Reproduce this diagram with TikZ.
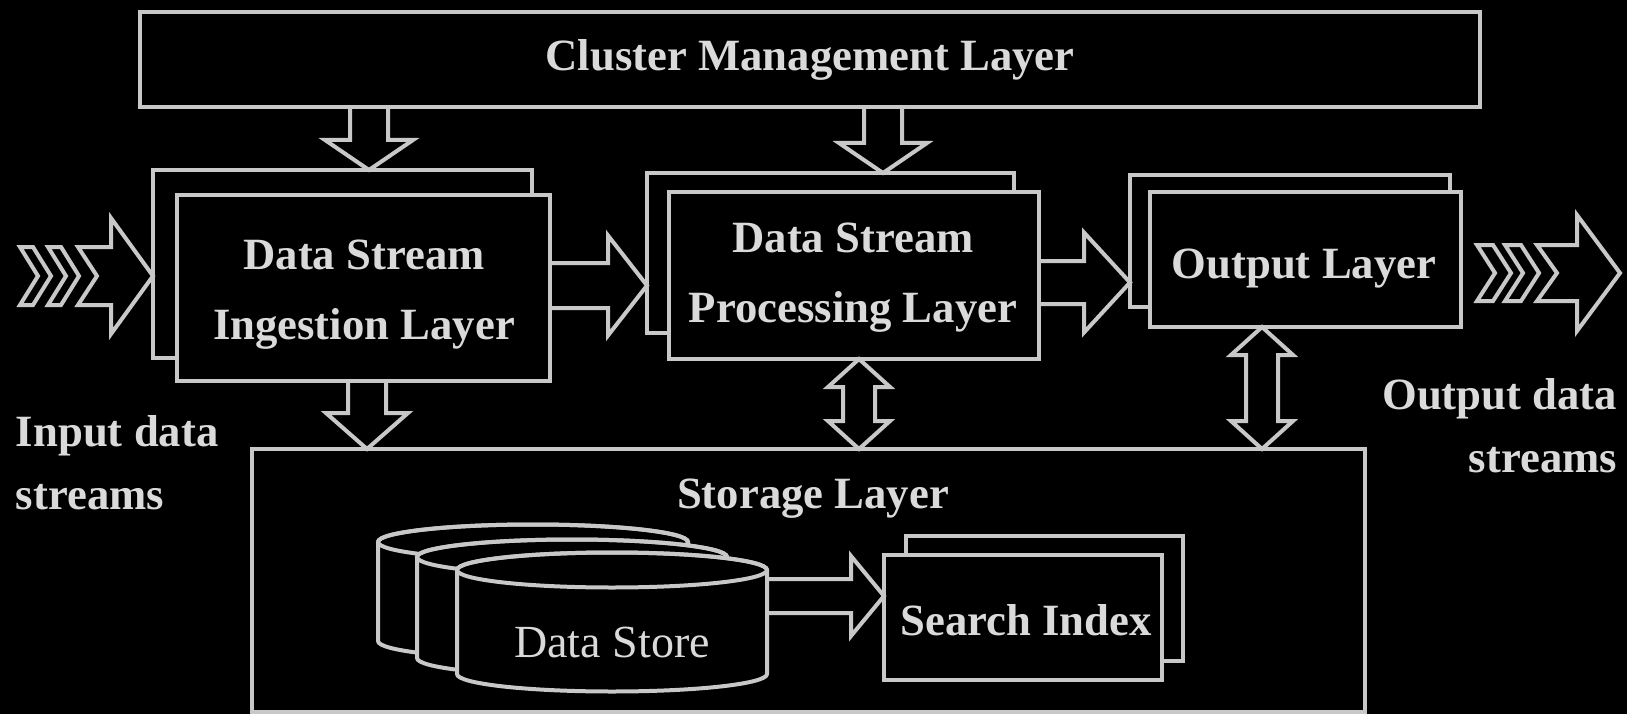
\documentclass[tikz,border=0pt]{standalone}
\usepackage{fontspec}
\setmainfont{Liberation Serif}
\usetikzlibrary{calc}
\definecolor{lc}{HTML}{C8C8C8}
\definecolor{tc}{HTML}{DADADA}
\newcommand\lblfont{\bfseries\fontsize{44.7}{70}\selectfont}
\newcommand\smlfont{\bfseries\fontsize{44.7}{63}\selectfont}
\newcommand\dsfont{\fontsize{46}{55}\selectfont}
% block arrow pointing down: x, from, to, shaft half, head half, head length
\newcommand\blkdown[6]{%
  \draw[blk] let \p1=(#2), \p2=(#3) in
    (#1pt-#4pt,\y1) -- (#1pt-#4pt,\y2+#6pt) -- (#1pt-#5pt,\y2+#6pt) -- (#1pt,\y2)
    -- (#1pt+#5pt,\y2+#6pt) -- (#1pt+#4pt,\y2+#6pt) -- (#1pt+#4pt,\y1);}
% block arrow pointing right: y, from, to, shaft half, head half, head length
\newcommand\blkright[6]{%
  \draw[blk] let \p1=(#2), \p2=(#3) in
    (\x1,-#1pt+#4pt) -- (\x2-#6pt,-#1pt+#4pt) -- (\x2-#6pt,-#1pt+#5pt) -- (\x2,-#1pt)
    -- (\x2-#6pt,-#1pt-#5pt) -- (\x2-#6pt,-#1pt-#4pt) -- (\x1,-#1pt-#4pt);}
% vertical double block arrow: x, upper, lower, shaft half, head half, head length
\newcommand\blkboth[6]{%
  \draw[blk] let \p1=(#2), \p2=(#3) in
    (#1pt,\y1) -- (#1pt+#5pt,\y1-#6pt) -- (#1pt+#4pt,\y1-#6pt) -- (#1pt+#4pt,\y2+#6pt)
    -- (#1pt+#5pt,\y2+#6pt) -- (#1pt,\y2) -- (#1pt-#5pt,\y2+#6pt) -- (#1pt-#4pt,\y2+#6pt)
    -- (#1pt-#4pt,\y1-#6pt) -- (#1pt-#5pt,\y1-#6pt) -- cycle;}
% cylinder: centre x, top y, bottom y
\newcommand\cylndr[3]{%
  \filldraw[draw=lc, fill=black, line width=4pt] (#1-155,#2) -- (#1-155,#3)
    arc[start angle=180,end angle=360,x radius=155pt,y radius=17.5pt] -- (#1+155,#2)
    arc[start angle=0,end angle=180,x radius=155pt,y radius=17.5pt] -- cycle;
  \draw[draw=lc, line width=4pt] (#1,#2) ellipse[x radius=155pt,y radius=17.5pt];}
\begin{document}
\begin{tikzpicture}[x=1pt,y=-1pt,
  box/.style={draw=lc, fill=black, line width=4pt, inner sep=0pt, outer sep=0pt, anchor=north west},
  txt/.style={text=tc, font=\lblfont, inner sep=0pt, outer sep=0pt, align=center},
  blk/.style={draw=lc, line width=4pt, line join=miter, miter limit=10}]
\fill[black] (0,0) rectangle (1627,714);
\useasboundingbox (0,0) rectangle (1627,714);

% boxes
\node[box, minimum width=1340pt, minimum height=95pt, text=tc, font=\lblfont] (cl) at (140,12) {Cluster Management Layer};
\node[box, minimum width=379pt, minimum height=188pt] (ingB) at (153,170) {};
\node[box, minimum width=373pt, minimum height=186pt] (ingF) at (177,195) {};
\node[box, minimum width=367pt, minimum height=160pt] (proB) at (647,173) {};
\node[box, minimum width=370pt, minimum height=167pt] (proF) at (669,192) {};
\node[box, minimum width=320pt, minimum height=132pt] (outB) at (1130,175) {};
\node[box, minimum width=311pt, minimum height=135pt] (outF) at (1150,192) {};
\node[box, minimum width=1113pt, minimum height=263pt] (sto) at (252,449) {};

\node[txt] (ingT) at (364,295) {Data Stream\\Ingestion Layer};
\node[txt] (proT) at (853,278) {Data Stream\\Processing Layer};
\node[txt, anchor=base] (outT) at (1304,278) {Output Layer};
\node[txt, anchor=base] (stoT) at (813,508) {Storage Layer};

% cylinders
\cylndr{533}{542}{641}
\cylndr{572}{557}{658}
\cylndr{612}{570}{674}
\node[txt, font=\dsfont, anchor=base] (ds) at (612,657) {Data Store};
\coordinate (dsE) at (767,596);

% search index
\node[box, minimum width=277pt, minimum height=125pt] (siB) at (906,536) {};
\node[box, minimum width=278pt, minimum height=125pt] (siF) at (884,555) {};
\node[txt, anchor=base] (siT) at (1026,635) {Search Index};

% block arrows
\blkdown{369}{cl.south}{ingB.north}{19}{44}{30}
\blkdown{883}{cl.south}{proB.north}{19}{44}{30}
\blkdown{367}{ingF.south}{sto.north}{19}{41}{36}
\blkright{285.5}{ingF.east}{proB.west}{22.5}{50}{39}
\blkright{282.5}{proF.east}{outB.west}{21.5}{50}{46}
\blkright{596}{dsE}{siF.west}{17}{40}{33}
\blkboth{859}{proF.south}{sto.north}{16}{31}{28}
\blkboth{1262}{outF.south}{sto.north}{16}{31}{28}

% input arrow
\coordinate (inTail) at (20,276);
\draw[blk] let \p1=(ingB.west) in (78,247) -- (111,247) -- (111,218) -- (\x1,-276pt)
  -- (111,334) -- (111,305) -- (78,305) -- (97,276) -- cycle;
\foreach \a in {20,48}
  \draw[blk] (\a,247) -- (\a+13,247) -- (\a+31,276) -- (\a+13,305) -- (\a,305) -- (\a+18,276) -- cycle;
\node[txt, font=\smlfont, align=left, anchor=west] (inL) at (16,463) {Input data\\streams};

% output arrow
\coordinate (outTip) at (1620,273);
\draw[blk] (1537,245) -- (1577,245) -- (1577,215) -- (outTip) -- (1577,331) -- (1577,301)
  -- (1537,301) -- (1557,273) -- cycle;
\foreach \a in {1477,1505}
  \draw[blk] (\a,245) -- (\a+16,245) -- (\a+34,273) -- (\a+16,301) -- (\a,301) -- (\a+18,273) -- cycle;
\node[txt, font=\smlfont, align=right, anchor=east] (outL) at (1617,426) {Output data\\streams};
\end{tikzpicture}
\end{document}
